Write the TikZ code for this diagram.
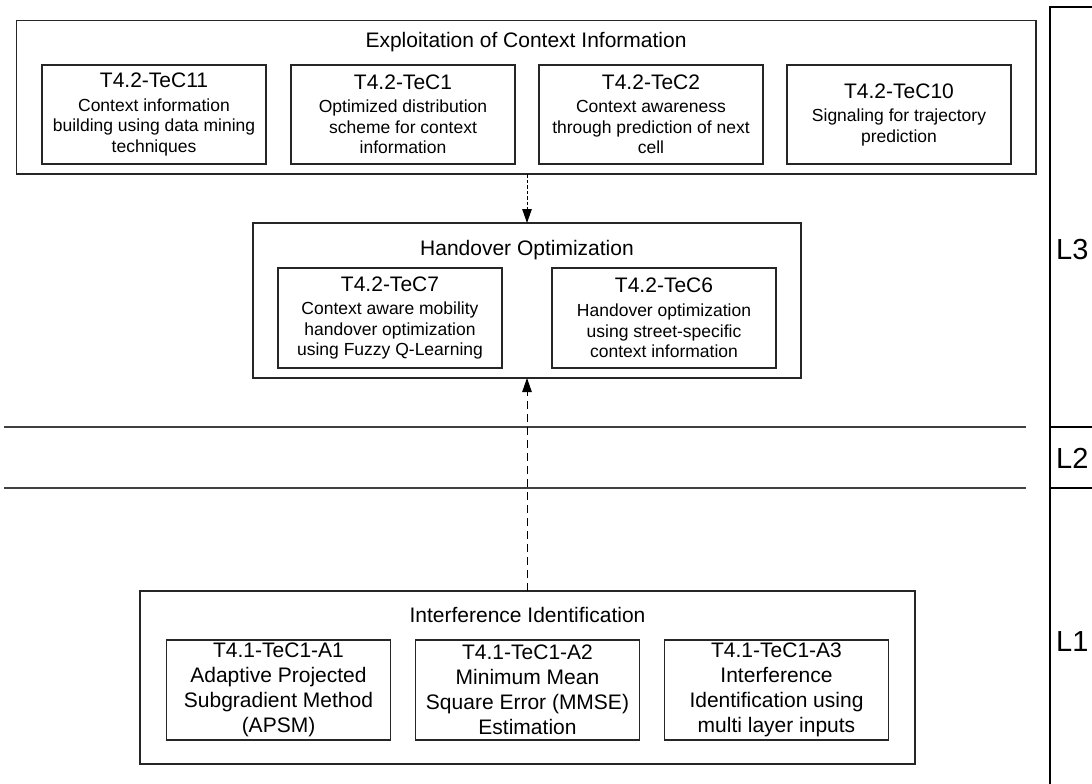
\documentclass[tikz,border=0pt]{standalone}
\usepackage{fontspec}
\setmainfont{Liberation Sans}
\usetikzlibrary{arrows.meta}
\newcommand{\techname}[1]{{\fontsize{21}{24}\selectfont #1}}
\tikzset{
    groupbox/.style={draw=black!85,line width=1.4pt,inner sep=0pt,outer sep=0pt},
    grouptitle/.style={font=\fontsize{21}{24}\selectfont,inner sep=0pt},
    techbox/.style={draw=black!85,line width=1.2pt,minimum width=224pt,minimum height=99pt,
        align=center,inner sep=0pt,outer sep=0pt,font=\fontsize{17.5}{20.5}\selectfont},
    bigtechbox/.style={techbox,minimum height=100pt,font=\fontsize{21}{25}\selectfont},
    dasharrow/.style={draw=black,line width=1pt,-{Triangle[length=14pt,width=9.5pt]}},
    sepline/.style={draw=black!75,line width=1.2pt},
    layerline/.style={draw=black,line width=2.6pt},
    layername/.style={font=\fontsize{29}{32}\selectfont,anchor=west,inner sep=0pt},
}
\begin{document}
\begin{tikzpicture}[x=1pt,y=-1pt]
\useasboundingbox (0,0) rectangle (1092,784);
% layer separators
\draw[sepline] (4,427) -- (1026,427);
\draw[sepline] (4,488) -- (1026,488);
\begin{scope}
\clip (0,0) rectangle (1092,784);
\draw[layerline] (1100,7) -- (1050,7) -- (1050,800);
\draw[layerline] (1050,427) -- (1100,427) (1050,488) -- (1100,488);
\end{scope}
\node[layername] (lthree) at (1056,250) {L3};
\node[layername] (ltwo) at (1056,458) {L2};
\node[layername] (lone) at (1056,642) {L1};
% L3: context information
\node[groupbox,minimum width=1019.5pt,minimum height=153.3pt] (ecbox) at (526.25,97.35) {};
\node[grouptitle] (ectitle) at (526,42) {Exploitation of Context Information};
\node[techbox] (tec11) at (154,114.5) {\techname{T4.2-TeC11}\\[3pt]Context information\\building using data mining\\techniques};
\node[techbox] (tec1) at (403,114.5) {\techname{T4.2-TeC1}\\[3pt]Optimized distribution\\scheme for context\\information};
\node[techbox] (tec2) at (651,114.5) {\techname{T4.2-TeC2}\\[3pt]Context awareness\\through prediction of next\\cell};
\node[techbox] (tec10) at (899,114.5) {\techname{T4.2-TeC10}\\[3pt]Signaling for trajectory\\prediction};
% L3: handover
\node[groupbox,minimum width=548pt,minimum height=155pt] (hobox) at (527,300.5) {};
\node[grouptitle] (hotitle) at (527,250) {Handover Optimization};
\node[techbox,minimum height=100pt] (tec7) at (390,318) {\techname{T4.2-TeC7}\\[3pt]Context aware mobility\\handover optimization\\using Fuzzy Q-Learning};
\node[techbox,minimum height=100pt] (tec6) at (664,318) {\techname{T4.2-TeC6}\\[3pt]Handover optimization\\using street-specific\\context information};
% L1: interference
\node[groupbox,minimum width=775pt,minimum height=173pt] (iibox) at (527.5,677.5) {};
\node[grouptitle] (iititle) at (527.5,615) {Interference Identification};
\node[bigtechbox] (apsm) at (278.5,690) {T4.1-TeC1-A1\\Adaptive Projected\\Subgradient Method\\(APSM)};
\node[bigtechbox] (mmse) at (527.5,690) {T4.1-TeC1-A2\\Minimum Mean\\Square Error (MMSE)\\Estimation};
\node[bigtechbox] (multi) at (776.5,690) {T4.1-TeC1-A3\\Interference\\Identification using\\multi layer inputs};
% dependencies
\draw[dasharrow,dash pattern=on 3.5pt off 2pt] (ecbox.south -| hobox.north) -- (hobox.north);
\draw[dasharrow,dash pattern=on 8pt off 5pt] (iibox.north -| hobox.south) -- (hobox.south);
\end{tikzpicture}
\end{document}
